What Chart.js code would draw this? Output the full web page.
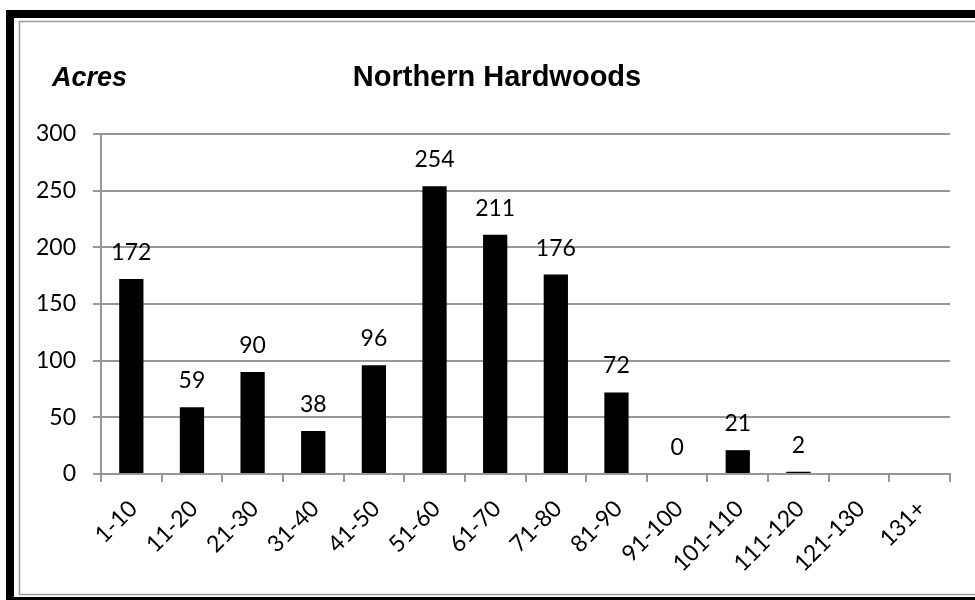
<!DOCTYPE html>
<html>
<head>
<meta charset="utf-8">
<script src="https://cdn.jsdelivr.net/npm/chart.js@4"></script>
<style>
  html, body { margin: 0; padding: 0; background: #fff; }
  canvas { display: block; }
</style>
</head>
<body>
<canvas id="canvas" width="975" height="600"></canvas>
<script>
// age classes and acreage for the stand
const ageClasses = ['1-10', '11-20', '21-30', '31-40', '41-50', '51-60', '61-70',
  '71-80', '81-90', '91-100', '101-110', '111-120', '121-130', '131+'];
const acres = [172, 59, 90, 38, 96, 254, 211, 176, 72, 0, 21, 2, null, null];
const yTicks = [0, 50, 100, 150, 200, 250, 300];

const labelFont = '23px Lato';
const gridGray = '#979797';

// outer frame, title and axis caption
const framePlugin = {
  id: 'frame',
  beforeDraw(chart) {
    const ctx = chart.ctx;
    ctx.save();
    ctx.fillStyle = '#fff';
    ctx.fillRect(0, 0, chart.width, chart.height);
    ctx.fillStyle = '#000';
    ctx.fillRect(6, 10, 8, 600);
    ctx.fillRect(6, 10, 980, 8);
    ctx.fillRect(6, 597, 980, 8);
    ctx.strokeStyle = '#999';
    ctx.lineWidth = 1.5;
    ctx.strokeRect(19.5, 21.5, 980, 573);
    ctx.restore();
  },
  afterDraw(chart) {
    const ctx = chart.ctx;
    ctx.save();
    ctx.fillStyle = '#000';
    ctx.textBaseline = 'alphabetic';
    ctx.font = 'bold 29px "Liberation Sans"';
    ctx.textAlign = 'center';
    ctx.fillText('Northern Hardwoods', 497, 86);
    ctx.font = 'italic bold 27px "Liberation Sans"';
    ctx.textAlign = 'left';
    ctx.fillText('Acres', 52, 86);
    ctx.restore();
  }
};

// value printed above each bar
const valueLabels = {
  id: 'valueLabels',
  afterDatasetsDraw(chart) {
    const ctx = chart.ctx;
    const meta = chart.getDatasetMeta(0);
    ctx.save();
    ctx.font = labelFont;
    ctx.fillStyle = '#000';
    ctx.textAlign = 'center';
    ctx.textBaseline = 'alphabetic';
    meta.data.forEach(function(bar, i) {
      const v = acres[i];
      if (v === null) return;
      ctx.fillText(String(v), bar.x, bar.y - 19);
    });
    ctx.restore();
  }
};

const ctx = document.getElementById('canvas').getContext('2d');
window.myChart = new Chart(ctx, {
  type: 'bar',
  data: {
    labels: ageClasses,
    datasets: [{
      label: 'Acres',
      data: acres,
      backgroundColor: '#000',
      borderWidth: 0,
      categoryPercentage: 1,
      barPercentage: 0.4
    }]
  },
  options: {
    responsive: false,
    animation: false,
    layout: { padding: { top: 134, right: 25, left: 0, bottom: 0 } },
    plugins: {
      legend: { display: false },
      title: { display: false },
      tooltip: { enabled: false }
    },
    scales: {
      x: {
        afterFit(scale) { scale.height = 126; },
        grid: {
          drawOnChartArea: false,
          drawTicks: true,
          tickLength: 8,
          color: gridGray,
          lineWidth: 2,
          offset: true
        },
        border: { color: gridGray, width: 2 },
        ticks: {
          color: '#000',
          font: { family: 'Lato', size: 23 },
          maxRotation: 45,
          minRotation: 45,
          padding: 13,
          labelOffset: 2,
          autoSkip: false
        }
      },
      y: {
        min: 0,
        max: 300,
        afterFit(scale) { scale.width = 101; },
        afterBuildTicks(scale) {
          scale.ticks = yTicks.map(function(v) { return { value: v }; });
        },
        grid: {
          color: gridGray,
          lineWidth: 2,
          tickLength: 8
        },
        border: { color: gridGray, width: 2 },
        ticks: {
          color: '#000',
          font: { family: 'Lato', size: 23 },
          padding: 17
        }
      }
    }
  },
  plugins: [framePlugin, valueLabels]
});
</script>
</body>
</html>
